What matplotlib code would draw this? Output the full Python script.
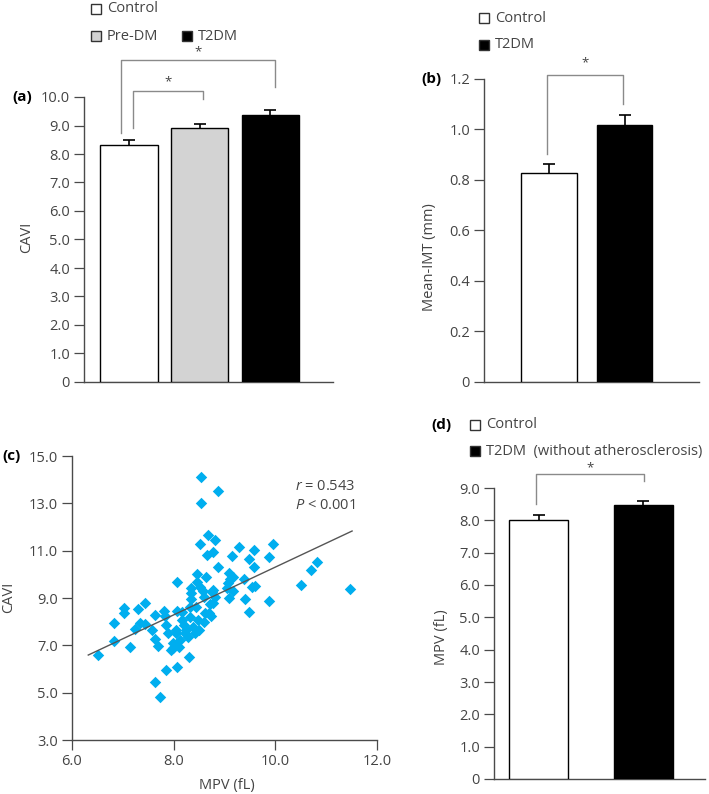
import numpy as np
import matplotlib
matplotlib.use('Agg')
import matplotlib.pyplot as plt
from matplotlib.patches import Rectangle

plt.rcParams['font.family'] = ['Open Sans', 'DejaVu Sans']
plt.rcParams['mathtext.fontset'] = 'custom'
plt.rcParams['mathtext.rm'] = 'Open Sans'
plt.rcParams['mathtext.it'] = 'Open Sans:italic'

# ---- data ----
# (a) CAVI by group
a_groups = ['Control', 'Pre-DM', 'T2DM']
a_mean = [8.33, 8.92, 9.37]
a_se = [0.15, 0.15, 0.18]

# (b) mean IMT
b_groups = ['Control', 'T2DM']
b_mean = [0.829, 1.017]
b_se = [0.034, 0.039]

# (c) MPV vs CAVI
mpv = [6.52, 6.82, 6.82, 7.02, 7.02, 7.14, 7.24, 7.30, 7.33, 7.44,
       7.44, 7.57, 7.64, 7.64, 7.69, 7.64, 7.74, 7.81, 7.83, 7.84,
       7.84, 7.94, 7.99, 8.04, 8.04, 8.06, 8.06, 8.06, 8.11, 8.16,
       8.17, 8.20, 8.25, 8.29, 8.31, 8.32, 8.35, 8.35, 8.35, 8.38,
       8.41, 8.44, 8.45, 8.46, 8.48, 8.50, 8.52, 8.54, 8.54, 8.58,
       8.60, 8.63, 8.66, 8.68, 8.70, 8.71, 8.73, 8.75, 8.78, 8.78,
       8.78, 8.81, 8.81, 8.87, 8.87, 9.08, 9.07, 9.08, 9.15, 9.17,
       9.17, 9.29, 9.39, 9.40, 9.48, 9.48, 9.54, 9.58, 9.59, 9.60,
       9.88, 9.88, 9.95, 10.51, 10.71, 10.82, 11.47,
       9.04, 9.11, 8.52, 8.60, 8.23, 8.12, 7.99, 7.89, 8.62, 8.32]
cavi = [6.59, 7.96, 7.17, 8.58, 8.38, 6.94, 7.68, 8.52, 7.96, 8.77,
        7.90, 7.65, 8.27, 7.25, 6.97, 5.45, 4.80, 8.46, 8.24, 7.85,
        5.96, 6.80, 7.08, 7.65, 7.51, 6.10, 9.69, 8.46, 6.94, 8.41,
        8.07, 7.85, 7.65, 7.37, 6.49, 8.63, 8.94, 9.20, 9.41, 7.79,
        7.51, 8.63, 9.69, 10.01, 8.07, 7.65, 11.28, 14.13, 13.00, 9.28,
        8.00, 9.90, 10.83, 11.65, 8.35, 8.75, 8.24, 9.27, 10.94, 9.34,
        8.80, 11.45, 9.03, 13.54, 10.30, 10.04, 9.65, 9.00, 10.77, 9.90,
        9.28, 11.17, 9.82, 8.97, 10.63, 8.41, 9.48, 11.03, 10.32, 9.51,
        10.75, 8.86, 11.28, 9.56, 10.18, 10.52, 9.37,
        9.41, 9.82, 9.45, 9.06, 7.51, 7.23, 6.87, 7.51, 8.35, 8.21]
fit_x = [6.32, 11.51]
fit_y = [6.59, 11.83]

# (d) MPV by group
d_groups = ['Control', 'T2DM  (without atherosclerosis)']
d_mean = [8.02, 8.47]
d_se = [0.13, 0.13]

W, H = 709, 794
fig = plt.figure(figsize=(W / 100, H / 100), dpi=100)

AX_COL = '#4a4a4a'
TXT_COL = '#444444'
BRK_COL = '#8a8a8a'


def box(l, t, r, b):
    # pixel box -> figure fraction
    return [l / W, 1 - b / H, (r - l) / W, (b - t) / H]


def fx(x, y):
    return x / W, 1 - y / H


def style(ax):
    for s in ['top', 'right']:
        ax.spines[s].set_visible(False)
    for s in ['left', 'bottom']:
        ax.spines[s].set_color(AX_COL)
        ax.spines[s].set_linewidth(1.0)
    ax.tick_params(axis='both', direction='out', length=7, width=0.9,
                   color=AX_COL, labelcolor=TXT_COL, labelsize=10.5, pad=3)


def bars(ax, means, ses, colors, width):
    x = np.arange(len(means))
    ax.errorbar(x, means, yerr=ses, fmt='none', ecolor='black',
                elinewidth=1.2, capsize=4, capthick=1.2, zorder=2)
    ax.bar(x, means, width=width, color=colors, edgecolor='black',
           linewidth=1.0, zorder=3)
    ax.set_xticks([])


def bracket(ax, x1, x2, y1, y2, ytop, ystar):
    ax.plot([x1, x1, x2, x2], [y1, ytop, ytop, y2], color=BRK_COL,
            lw=1.0, clip_on=False)
    ax.text((x1 + x2) / 2, ystar, '*', ha='center', va='center',
            fontsize=9.5, color=TXT_COL, clip_on=False)


def legend_item(x, y, face, label):
    fig.add_artist(Rectangle(fx(x, y + 10), 10 / W, 10 / H, facecolor=face,
                             edgecolor='#333333', lw=1.0,
                             transform=fig.transFigure))
    fig.text(*fx(x + 16, y + 5), label, ha='left', va='center',
             fontsize=10.5, color=TXT_COL)


def fmt0(v, nd=1):
    return '0' if v == 0 else f'{v:.{nd}f}'


# ---- (a) ----
ax = fig.add_axes(box(84, 97, 333, 382))
style(ax)
bars(ax, a_mean, a_se, ['white', '#d3d3d3', 'black'], 0.81)
ax.set_xlim(-0.637, 2.89)
ax.set_ylim(0, 10)
ticks = np.arange(0, 11, 1.0)
ax.set_yticks(ticks)
ax.set_yticklabels([fmt0(t) for t in ticks])
bracket(ax, 0.05, 1.05, 8.91, 9.94, 10.22, 10.55)
bracket(ax, -0.11, 2.07, 8.74, 10.35, 11.3, 11.58)
fig.text(*fx(27, 237), 'CAVI', rotation=90, ha='center', va='center',
         fontsize=10.5, color=TXT_COL)
fig.text(*fx(12, 97), '(a)', ha='left', va='center', fontsize=11,
         fontweight='bold')
legend_item(91, 4, 'white', a_groups[0])
legend_item(91, 31, '#d3d3d3', a_groups[1])
legend_item(182, 31, 'black', a_groups[2])

# ---- (b) ----
ax = fig.add_axes(box(484, 79, 699, 382))
style(ax)
bars(ax, b_mean, b_se, ['white', 'black'], 0.74)
ax.set_xlim(-0.867, 1.988)
ax.set_ylim(0, 1.2)
ticks = np.arange(0, 1.21, 0.2)
ax.set_yticks(ticks)
ax.set_yticklabels([fmt0(round(t, 1)) for t in ticks])
bracket(ax, -0.03, 0.98, 0.904, 1.10, 1.216, 1.265)
fig.text(*fx(430, 257), 'Mean-IMT (mm)', rotation=90, ha='center',
         va='center', fontsize=10.5, color=TXT_COL)
fig.text(*fx(421, 79), '(b)', ha='left', va='center', fontsize=11,
         fontweight='bold')
legend_item(479, 13, 'white', b_groups[0])
legend_item(479, 40, 'black', b_groups[1])

# ---- (c) ----
ax = fig.add_axes(box(72, 456, 377, 740))
style(ax)
ax.scatter(mpv, cavi, marker='D', s=34, color='#00aeef', linewidths=0,
           zorder=3)
ax.plot(fit_x, fit_y, color='#555555', lw=1.0, zorder=4)
ax.set_xlim(6, 12)
ax.set_ylim(3, 15)
ax.set_xticks([6, 8, 10, 12])
ax.set_xticklabels(['6.0', '8.0', '10.0', '12.0'])
ax.set_yticks(np.arange(3, 16, 2))
ax.set_yticklabels([f'{t:.1f}' for t in np.arange(3, 16, 2)])
fig.text(*fx(227, 785), 'MPV (fL)', ha='center', va='center',
         fontsize=10.5, color=TXT_COL)
fig.text(*fx(9, 597), 'CAVI', rotation=90, ha='center', va='center',
         fontsize=10.5, color=TXT_COL)
fig.text(*fx(2, 456), '(c)', ha='left', va='center', fontsize=11,
         fontweight='bold')
fig.text(*fx(355, 487), '$r$ = 0.543', ha='right', va='center',
         fontsize=10.5, color=TXT_COL)
fig.text(*fx(355, 505), '$P$ < 0.001', ha='right', va='center',
         fontsize=10.5, color=TXT_COL)

# ---- (d) ----
ax = fig.add_axes(box(494, 488, 705, 779))
style(ax)
bars(ax, d_mean, d_se, ['white', 'black'], 0.566)
ax.set_xlim(-0.429, 1.594)
ax.set_ylim(0, 9)
ticks = np.arange(0, 10, 1.0)
ax.set_yticks(ticks)
ax.set_yticklabels([fmt0(t) for t in ticks])
bracket(ax, -0.026, 1.006, 8.52, 9.21, 9.44, 9.64)
fig.text(*fx(441, 637), 'MPV (fL)', rotation=90, ha='center', va='center',
         fontsize=10.5, color=TXT_COL)
fig.text(*fx(431, 425), '(d)', ha='left', va='center', fontsize=11,
         fontweight='bold')
legend_item(470, 420, 'white', d_groups[0])
legend_item(470, 446, 'black', d_groups[1])

fig.savefig('out.png', dpi=100)
